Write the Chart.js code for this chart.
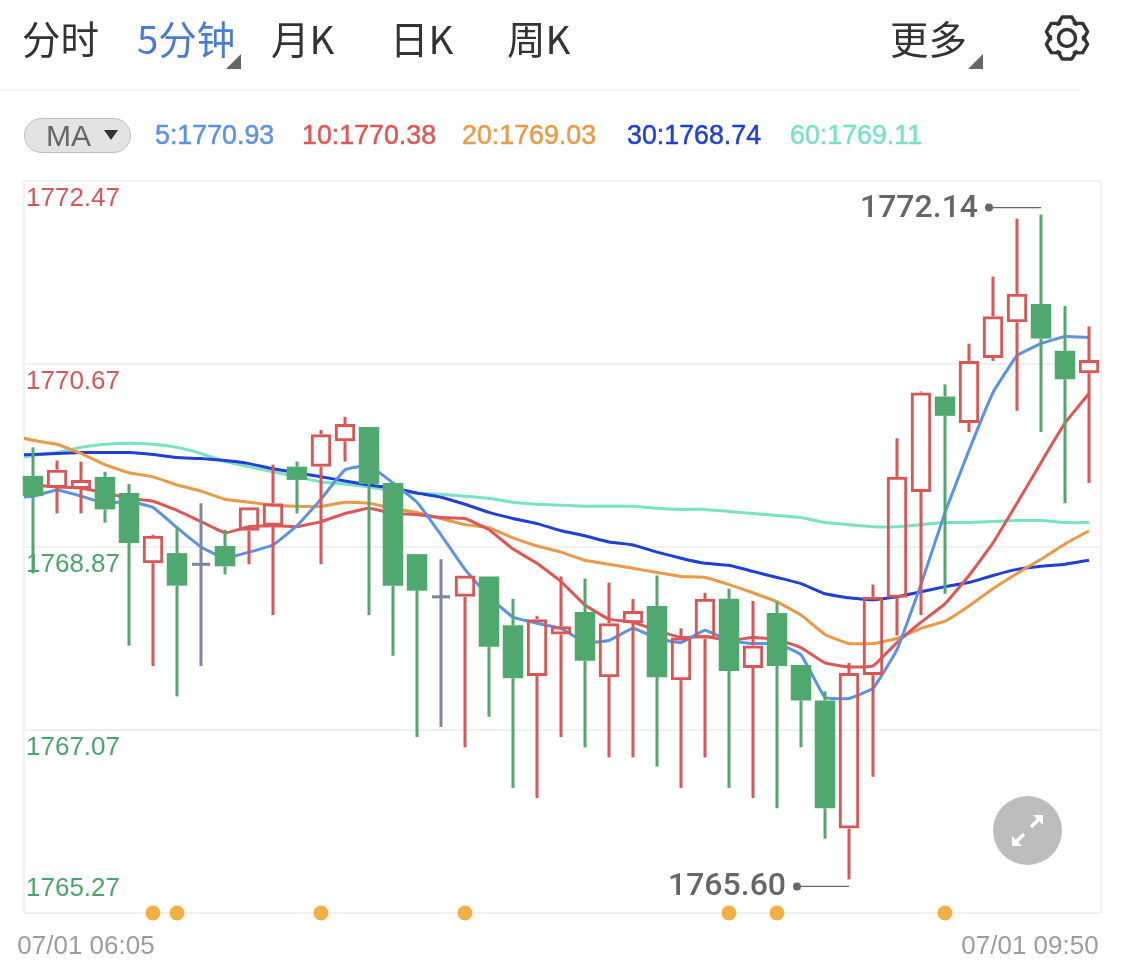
<!DOCTYPE html>
<html lang="zh">
<head>
<meta charset="utf-8">
<title>K</title>
<script src="https://cdn.jsdelivr.net/npm/chart.js@4/dist/chart.umd.js"></script>
<style>
html,body{margin:0;padding:0;background:#fff;width:1125px;height:969px;overflow:hidden}
canvas{position:absolute;left:0;top:0}
.t{position:absolute;top:15px;height:44px;line-height:44px;font-family:"Noto Sans CJK SC","Noto Sans",sans-serif;font-weight:400;font-size:38.5px;color:#333;white-space:nowrap}
.m{position:absolute;top:118px;height:35px;line-height:35px;font-family:"Liberation Sans",Arial,sans-serif;font-size:26.8px;-webkit-text-stroke:0.5px;white-space:nowrap}
.tri{position:absolute;width:0;height:0;border-style:solid;border-width:0 0 15px 15px;border-color:transparent transparent #666 transparent}
#rule{position:absolute;left:0;top:89px;width:1080px;height:2px;background:#f3f3f3}
#pill{position:absolute;left:24px;top:118px;width:105px;height:33px;border:1px solid #bdbdbd;border-radius:18px;background:#e3e3e3}
#pillTri{position:absolute;left:104px;top:130px;width:0;height:0;border-style:solid;border-width:10px 7.5px 0 7.5px;border-color:#333 transparent transparent transparent}
#gear{position:absolute;left:1043px;top:14px}
#expand{position:absolute;left:993px;top:796px}
</style>
</head>
<body>
<canvas id="c" width="1125" height="969" style="width:1125px;height:969px"></canvas>
<div id="rule"></div>
<div id="pill"></div><div class="m" style="left:46px;color:#666;font-size:30px;-webkit-text-stroke:0">MA</div><div id="pillTri"></div>
<div class="tri" style="left:226px;top:54px"></div>
<div class="tri" style="left:968px;top:54px"></div>
<svg id="gear" width="48" height="48" viewBox="-24 -24 48 48"><polygon id="gearPath" fill="none" stroke="#333" stroke-width="3.4" stroke-linejoin="round" points=""></polygon><circle r="8.5" fill="none" stroke="#333" stroke-width="3.4"></circle></svg>
<svg id="expand" width="69" height="69" viewBox="0 0 69 69"><circle cx="34.5" cy="34.5" r="34.5" fill="#bdbdbd"></circle>
<g stroke="#fff" stroke-width="3.6" fill="#fff"><line x1="38" y1="31" x2="47" y2="22"></line><polygon points="40,19 50,19 50,29" stroke="none"></polygon><line x1="31" y1="38" x2="22" y2="47"></line><polygon points="19,40 19,50 29,50" stroke="none"></polygon></g></svg>
<script>
// Toolbar and legend text
const tabLabels = ["分时", "5分钟", "月K", "日K", "周K", "更多"];
const tabLeft = [22, 137, 271, 390, 507, 890];
const maLegend = ["5:1770.93", "10:1770.38", "20:1769.03", "30:1768.74", "60:1769.11"];
const maLegendLeft = [155, 302, 462, 627, 790];
const maColors = ["#5b93e3", "#de5656", "#e89a47", "#1f3fd6", "#78e2c2"];

// Axis
const yTicksTop = [1772.47, 1770.67, 1768.87, 1767.07];
const yTicksBottom = [1765.27];
const yLast = 1769.50;
const xTickLabels = ["07/01 06:05", "07/01 09:50"];

// Candles, one per 5 minutes
const opens  = [1769.57,1769.45,1769.44,1769.56,1769.40,1768.71,1768.81,1768.70,1768.88,1769.03,1769.08,1769.66,1769.66,1769.91,1770.05,1769.50,1768.80,1768.38,1768.38,1768.58,1768.10,1767.60,1768.01,1768.23,1767.59,1768.12,1768.29,1767.56,1767.97,1768.36,1767.68,1768.22,1767.71,1767.36,1766.10,1767.61,1768.37,1769.41,1770.35,1770.09,1770.73,1771.08,1771.26,1770.80,1770.58];
const closes = [1769.37,1769.63,1769.53,1769.24,1768.91,1768.98,1768.49,1768.70,1768.68,1769.26,1769.30,1769.53,1769.98,1770.08,1769.49,1768.49,1768.44,1768.38,1768.59,1767.89,1767.58,1768.16,1768.09,1767.75,1768.12,1768.24,1767.59,1767.98,1768.36,1767.65,1767.90,1767.70,1767.36,1766.30,1767.63,1768.38,1769.56,1770.39,1770.16,1770.70,1771.14,1771.36,1770.92,1770.52,1770.71];
const highs  = [1769.85,1769.72,1769.71,1769.61,1769.49,1768.99,1769.07,1769.30,1769.04,1769.26,1769.68,1769.71,1770.02,1770.15,1770.05,1769.50,1768.80,1768.75,1768.59,1768.58,1768.36,1768.19,1768.58,1768.56,1768.52,1768.36,1768.59,1768.07,1768.42,1768.46,1768.34,1768.33,1767.71,1767.45,1767.73,1768.50,1769.94,1770.40,1770.47,1770.87,1771.53,1772.10,1772.14,1771.24,1771.04];
const lows   = [1768.61,1769.20,1769.20,1769.11,1767.90,1767.70,1767.40,1767.70,1768.60,1768.70,1768.20,1769.20,1768.70,1769.71,1768.20,1767.80,1767.00,1767.10,1766.90,1767.20,1766.50,1766.40,1767.00,1766.90,1766.80,1766.80,1766.71,1766.50,1766.80,1766.50,1766.40,1766.30,1766.90,1766.00,1765.60,1766.61,1768.00,1768.20,1768.41,1770.00,1770.70,1770.21,1770.00,1769.30,1769.50];

// Moving averages; the first value lies just before the first candle
const ma5  = [1769.35,1769.37,1769.43,1769.37,1769.30,1769.32,1769.26,1769.06,1768.87,1768.76,1768.82,1768.89,1769.08,1769.34,1769.63,1769.67,1769.50,1769.31,1768.99,1768.65,1768.38,1768.18,1768.12,1768.07,1767.93,1767.95,1768.07,1767.97,1767.93,1768.05,1767.95,1767.92,1767.92,1767.81,1767.39,1767.38,1767.48,1767.86,1768.50,1769.21,1769.82,1770.39,1770.75,1770.87,1770.94,1770.93];
const ma10 = [1769.49,1769.48,1769.46,1769.45,1769.40,1769.35,1769.32,1769.23,1769.12,1769.01,1769.07,1769.08,1769.07,1769.12,1769.20,1769.25,1769.20,1769.19,1769.16,1769.15,1769.04,1768.85,1768.71,1768.53,1768.30,1768.16,1768.13,1768.05,1767.98,1767.99,1767.95,1767.98,1767.96,1767.88,1767.73,1767.69,1767.70,1767.93,1768.13,1768.31,1768.59,1768.91,1769.30,1769.70,1770.09,1770.38];
const ma20 = [1769.97,1769.92,1769.88,1769.79,1769.68,1769.60,1769.56,1769.48,1769.42,1769.34,1769.31,1769.28,1769.27,1769.27,1769.31,1769.30,1769.25,1769.21,1769.15,1769.09,1769.06,1768.96,1768.88,1768.82,1768.74,1768.70,1768.66,1768.62,1768.58,1768.57,1768.50,1768.42,1768.33,1768.20,1768.01,1767.92,1767.92,1767.97,1768.07,1768.14,1768.29,1768.46,1768.61,1768.75,1768.90,1769.03];
const ma30 = [1769.77,1769.78,1769.79,1769.80,1769.80,1769.80,1769.78,1769.75,1769.74,1769.72,1769.69,1769.64,1769.60,1769.56,1769.52,1769.48,1769.45,1769.40,1769.36,1769.29,1769.21,1769.15,1769.10,1769.03,1768.98,1768.92,1768.89,1768.82,1768.76,1768.71,1768.69,1768.63,1768.57,1768.51,1768.41,1768.37,1768.35,1768.38,1768.43,1768.48,1768.52,1768.59,1768.65,1768.68,1768.70,1768.74];
const ma60 = [1769.73,1769.77,1769.80,1769.85,1769.88,1769.89,1769.88,1769.85,1769.79,1769.71,1769.66,1769.61,1769.56,1769.51,1769.49,1769.46,1769.42,1769.40,1769.39,1769.37,1769.35,1769.31,1769.29,1769.28,1769.27,1769.27,1769.27,1769.25,1769.24,1769.24,1769.22,1769.20,1769.18,1769.16,1769.11,1769.09,1769.07,1769.07,1769.09,1769.11,1769.11,1769.12,1769.13,1769.13,1769.11,1769.11];

// Event markers along the bottom axis, by candle number
const eventCandles = [5, 6, 12, 18, 29, 31, 38];

// Extreme labels
const extremes = [{i: 42, v: 1772.14, up: true}, {i: 34, v: 1765.60, up: false}];

const RED = "#db5555", GREEN = "#4fa96f", GRAY = "#7f86a3";
const n = opens.length;
const colorOf = i => closes[i] > opens[i] ? RED : closes[i] < opens[i] ? GREEN : GRAY;
const isUp = i => closes[i] > opens[i];
const isDown = i => closes[i] < opens[i];
const isDoji = i => closes[i] === opens[i];
const top_ = i => Math.max(opens[i], closes[i]);
const bot_ = i => Math.min(opens[i], closes[i]);
const idx = Array.from({length: n}, (_, i) => i);
const wickColors = idx.map(colorOf);

function barSet(y, extra) {
  return Object.assign({type: "bar", grouped: false, data: y, inflateAmount: 0, borderSkipped: false, clip: false}, extra);
}
const upperWick = barSet(idx.map(i => ({x: i, y: [top_(i), highs[i]]})), {backgroundColor: wickColors, barThickness: 3, borderWidth: 0, order: 2});
const lowerWick = barSet(idx.map(i => ({x: i, y: [lows[i], bot_(i)]})), {backgroundColor: wickColors, barThickness: 3, borderWidth: 0, order: 2});
const upBodies = barSet(idx.filter(isUp).map(i => ({x: i, y: [opens[i], closes[i]]})),
  {backgroundColor: "rgba(0,0,0,0)", borderColor: RED, barThickness: 20.5, borderWidth: 3, order: 1});
const downBodies = barSet(idx.filter(isDown).map(i => ({x: i, y: [opens[i], closes[i]]})),
  {backgroundColor: GREEN, barThickness: 20.5, borderWidth: 0, order: 1});
const dojis = barSet(idx.filter(isDoji).map(i => ({x: i, y: [opens[i] - 0.015, opens[i] + 0.015]})),
  {backgroundColor: GRAY, barThickness: 18, borderWidth: 0, order: 1});

function maSet(vals, color, order) {
  return {type: "line", data: vals.map((y, i) => ({x: i - 1, y})), borderColor: color, borderWidth: 3, pointRadius: 0, tension: 0.1, order};
}
const events = {type: "scatter", data: eventCandles.map(i => ({x: i, y: yTicksBottom[0]})), backgroundColor: "#f2b045", pointRadius: 7.5, pointBorderWidth: 0, clip: false, order: 0};

const frame = {
  id: "frame",
  beforeDatasetsDraw(chart) {
    const a = chart.chartArea, c = chart.ctx;
    c.save(); c.strokeStyle = "#f1f1f1"; c.lineWidth = 2;
    c.strokeRect(a.left, a.top, a.right - a.left, a.bottom - a.top);
    c.restore();
  },
  afterDatasetsDraw(chart) {
    const c = chart.ctx, X = chart.scales.x, Y = chart.scales.y;
    c.save();
    extremes.forEach(e => {
      const px = X.getPixelForValue(e.i);
      const py = Y.getPixelForValue(e.v) + (e.up ? -7 : 7);
      const dot = px - 52;
      c.strokeStyle = "#666"; c.lineWidth = 1.2;
      c.beginPath(); c.moveTo(dot, py); c.lineTo(px, py); c.stroke();
      c.fillStyle = "#666";
      c.beginPath(); c.arc(dot, py, 4, 0, Math.PI * 2); c.fill();
      c.font = "500 32px Roboto, 'Liberation Sans', sans-serif";
      c.textAlign = "right"; c.textBaseline = "middle";
      c.fillText(e.v.toFixed(2), dot - 11, py + 1);
    });
    c.restore();
  }
};

const tickFont = {family: "'Liberation Sans', Arial, sans-serif", size: 26};
const tickColor = ctx => ctx.tick.value > yLast ? "#d9555a" : "#4aa56c";
function yAxis(ticks, offset) {
  return {
    position: "left", min: 1765.27, max: 1772.47,
    afterBuildTicks(s) { s.ticks = ticks.map(value => ({value})); },
    afterFit(s) { s.width = 0; },
    grid: {color: "#f1f1f1", lineWidth: 2, drawTicks: false},
    border: {display: false},
    ticks: {mirror: true, padding: 2, labelOffset: offset, autoSkip: false, font: tickFont, color: tickColor,
      callback: v => Number(v).toFixed(2)}
  };
}

new Chart(document.getElementById("c"), {
  data: {datasets: [maSet(ma60, maColors[4], 9), maSet(ma30, maColors[3], 8), maSet(ma20, maColors[2], 7), maSet(ma10, maColors[1], 6), maSet(ma5, maColors[0], 5), upperWick, lowerWick, upBodies, downBodies, dojis, events]},
  plugins: [frame],
  options: {
    responsive: false, animation: false, devicePixelRatio: 1,
    layout: {padding: {left: 24, right: 24, top: 181, bottom: 0}},
    plugins: {legend: {display: false}, tooltip: {enabled: false}},
    events: [],
    scales: {
      x: {
        type: "linear", min: -0.375, max: 44.5, offset: false,
        afterBuildTicks(s) { s.ticks = [{value: 2.208}, {value: 41.54}]; },
        afterFit(s) { s.height = 56; },
        grid: {display: false}, border: {display: false},
        ticks: {autoSkip: false, maxRotation: 0, padding: 10, font: tickFont, color: "#9c9c9c",
          callback: (v, i) => xTickLabels[i]}
      },
      y: yAxis(yTicksTop, 18),
      y2: yAxis(yTicksBottom, -24)
    }
  }
});

// Toolbar text
tabLabels.forEach((s, i) => {
  const d = document.createElement("div");
  d.className = "t"; d.textContent = s; d.style.left = tabLeft[i] + "px";
  if (i === 1) d.style.color = "#4a7cd6";
  document.body.appendChild(d);
});
maLegend.forEach((s, i) => {
  const d = document.createElement("div");
  d.className = "m"; d.textContent = s; d.style.left = maLegendLeft[i] + "px"; d.style.color = maColors[i];
  document.body.appendChild(d);
});
// Settings icon outline
const pts = [];
for (let k = 0; k < 6; k++) {
  const a = -90 + k * 60;
  [[-34, 16.5], [-13, 21.5], [13, 21.5], [34, 16.5]].forEach(([d, r]) => {
    const t = (a + d) * Math.PI / 180;
    pts.push((r * Math.cos(t)).toFixed(2) + "," + (r * Math.sin(t)).toFixed(2));
  });
}
document.getElementById("gearPath").setAttribute("points", pts.join(" "));
</script>
</body>
</html>
